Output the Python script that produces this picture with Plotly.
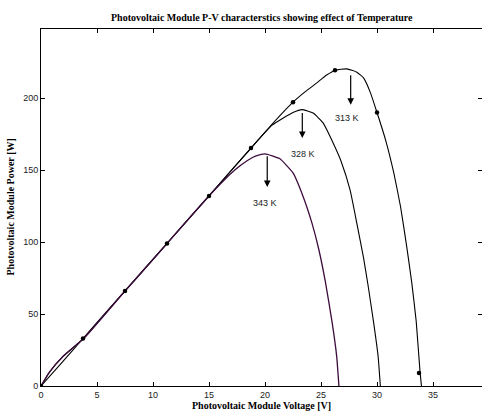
import plotly.graph_objects as go

# ---- data ----
v_313 = [0, 1.9, 3.75, 5.6, 7.5, 9.4, 11.25, 13.1, 15, 16.9, 18.75, 20.6, 22.5, 23.6, 24.6,
         25.5, 26.3, 27.3, 28.2, 28.8, 29.4, 30.0, 30.8, 31.5, 32.1, 32.65, 33.1, 33.5, 33.84, 33.97]
p_313 = [0, 16.6, 33, 49.5, 66, 82.5, 99, 115.5, 132, 149, 165.3, 181.6, 197.2, 204.5, 210.4,
         216, 219.4, 220.3, 218, 214, 204, 190, 170, 148, 124.7, 97, 72, 45, 10, 0]

v_328 = [0, 0.74, 1.93, 3.87, 7.5, 11.25, 15, 18.75, 20.6, 21.6, 22.5, 23.3, 24.3, 25.2,
         25.95, 26.8, 27.6, 28.2, 28.8, 29.2, 29.7, 30.1, 30.3]
p_328 = [0, 9.5, 20.3, 33.5, 66, 99, 132, 165.3, 181, 186, 190, 192, 189.6, 182.6,
         171, 156, 136, 113, 89, 70, 44, 20.6, 0]

v_343 = [0, 0.74, 1.93, 3.87, 7.5, 11.25, 15, 17.3, 18.4, 19.2, 20.0, 21.3, 22.5, 23.4,
         24.2, 24.8, 25.4, 26.0, 26.4, 26.6]
p_343 = [0, 9.5, 20.3, 33.5, 66, 99, 132, 150, 156.5, 159.8, 161.3, 158, 148, 131.7,
         113, 95, 72, 43.8, 20.6, 0]

marker_v = [0, 3.75, 7.5, 11.25, 15, 18.75, 22.5, 26.25, 30.0, 33.75]
marker_p = [0, 33, 66, 99, 132, 165.3, 197.2, 219.4, 190, 9]

temp_labels = ["313 K", "328 K", "343 K"]
arrow_x = [27.65, 23.33, 20.2]
arrow_tail = [216.9, 190.7, 160.6]
arrow_tip = [195.3, 172.2, 138.2]
label_x = [27.3, 23.42, 20.0]
label_y = [186.5, 161.1, 127.1]

x_ticks = [0, 5, 10, 15, 20, 25, 30, 35]
y_ticks = [0, 50, 100, 150, 200]

fig = go.Figure()
fig.add_trace(go.Scatter(x=v_313, y=p_313, mode="lines",
                         line=dict(color="black", width=1.1, shape="spline", smoothing=0.4),
                         showlegend=False, hoverinfo="skip"))
fig.add_trace(go.Scatter(x=v_328, y=p_328, mode="lines",
                         line=dict(color="black", width=1.1, shape="spline", smoothing=0.4),
                         showlegend=False, hoverinfo="skip"))
fig.add_trace(go.Scatter(x=v_343, y=p_343, mode="lines",
                         line=dict(color="#3d0c3d", width=1.3, shape="spline", smoothing=0.4),
                         showlegend=False, hoverinfo="skip"))
fig.add_trace(go.Scatter(x=marker_v, y=marker_p, mode="markers",
                         marker=dict(color="black", size=4.5),
                         showlegend=False, hoverinfo="skip"))

annotations = []
for t, ax_, tail, tip, lx, ly in zip(temp_labels, arrow_x, arrow_tail, arrow_tip, label_x, label_y):
    annotations.append(dict(x=ax_, y=tip, ax=ax_, ay=tail, xref="x", yref="y",
                            axref="x", ayref="y", text="", showarrow=True,
                            arrowhead=2, arrowsize=1.1, arrowwidth=1.2, arrowcolor="black"))
    annotations.append(dict(x=lx, y=ly, xref="x", yref="y", text=t, showarrow=False,
                            font=dict(family="Liberation Sans, Arial", size=9, color="#222"),
                            xanchor="center", yanchor="middle"))

serif_bold = dict(family="Liberation Serif, Times New Roman", size=10, color="black")
annotations.append(dict(x=0.5, y=1, xref="paper", yref="paper", yshift=11.5,
                        text="<b>Photovoltaic Module P-V characterstics showing effect of Temperature</b>",
                        showarrow=False, xanchor="center", yanchor="middle", font=serif_bold))
annotations.append(dict(x=0.5, y=0, xref="paper", yref="paper", yshift=-19,
                        text="<b>Photovoltaic Module Voltage [V]</b>",
                        showarrow=False, xanchor="center", yanchor="middle", font=serif_bold))
annotations.append(dict(x=0, y=0.5, xref="paper", yref="paper", xshift=-31,
                        text="<b>Photovoltaic Module Power [W]</b>", textangle=-90,
                        showarrow=False, xanchor="center", yanchor="middle", font=serif_bold))

tickfont = dict(family="Liberation Sans, Arial", size=9, color="#222")
fig.update_layout(
    width=482, height=412,
    margin=dict(l=41, r=0, t=29, b=26, pad=0),
    paper_bgcolor="white", plot_bgcolor="white",
    annotations=annotations,
    xaxis=dict(range=[0, 39.375], tickvals=x_ticks, ticks="inside", ticklen=4,
               tickcolor="black", showline=True, linecolor="black", linewidth=1,
               mirror="ticks", showgrid=False, zeroline=False, tickfont=tickfont),
    yaxis=dict(range=[0, 248], tickvals=y_ticks, ticks="inside", ticklen=4,
               tickcolor="black", showline=True, linecolor="black", linewidth=1,
               mirror="ticks", showgrid=False, zeroline=False, tickfont=tickfont),
)

fig.write_html("out.html")
